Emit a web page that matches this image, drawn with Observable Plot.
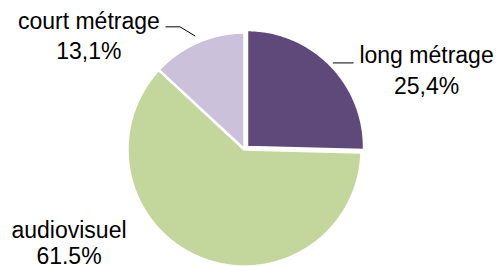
<!DOCTYPE html>
<html><head><meta charset="utf-8">
<script src="https://cdn.jsdelivr.net/npm/d3@7"></script>
<script src="https://cdn.jsdelivr.net/npm/@observablehq/plot@0.6"></script>
<style>html,body{margin:0;padding:0;background:#fff} svg{display:block}</style>
</head><body><div id="chart"></div>
<script>
// ---- data ----
const categories = ["long métrage", "audiovisuel", "court métrage"];
const values = [25.4, 61.5, 13.1];
const valueLabels = ["25,4%", "61.5%", "13,1%"];
const colors = ["#5F497A", "#C3D69B", "#CCC1DA"];
const explode = [0.03, 0, 0];
// ---- label layout (pie-radius units) ----
const labelX = [1.556, -1.50, -1.33];
const labelY = [0.800, -0.695, 1.090];
const lineGap = [0.265, 0.223, 0.256];

const W = 499, H = 266, CX = 244, CY = 149, R = 117;

const arcs = d3.pie().sort(null).value(d => d)(values);
const slices = [];
arcs.forEach((a, i) => {
  const mid = (a.startAngle + a.endAngle) / 2;
  const ox = explode[i] * Math.sin(mid), oy = explode[i] * Math.cos(mid);
  slices.push({k: i, x: ox, y: oy, color: colors[i]});
  const n = Math.max(2, Math.ceil((a.endAngle - a.startAngle) / 0.01));
  for (let j = 0; j <= n; j++) {
    const t = a.startAngle + (a.endAngle - a.startAngle) * j / n;
    slices.push({k: i, x: ox + Math.sin(t), y: oy + Math.cos(t), color: colors[i]});
  }
});

// leaders
const leaders = [];
{
  const a = arcs[0], mid = (a.startAngle + a.endAngle) / 2, r = 1.03 + explode[0];
  const p = [r * Math.sin(mid), r * Math.cos(mid)];
  leaders.push({k: 0, x: p[0], y: p[1]}, {k: 0, x: p[0] + 0.17, y: p[1]});
}
{
  const a = arcs[2], mid = (a.startAngle + a.endAngle) / 2, r = 1.06 + explode[2];
  const p = [r * Math.sin(mid), r * Math.cos(mid)];
  leaders.push({k: 2, x: p[0], y: p[1]}, {k: 2, x: p[0] - 0.128, y: p[1] + 0.077}, {k: 2, x: p[0] - 0.248, y: p[1] + 0.077});
}

const labels = [];
categories.forEach((c, i) => {
  labels.push({x: labelX[i], y: labelY[i], text: c});
  labels.push({x: labelX[i], y: labelY[i] - lineGap[i], text: valueLabels[i]});
});

const chart = Plot.plot({
  width: W, height: H,
  margin: 0,
  x: {domain: [-CX / R, (W - CX) / R], range: [0, W], axis: null},
  y: {domain: [-(H - CY) / R, CY / R], range: [H, 0], axis: null},
  color: {type: "identity"},
  style: {fontFamily: "'Liberation Sans', Arial, sans-serif", background: "#fff"},
  marks: [
    Plot.line(slices, {x: "x", y: "y", z: "k", fill: "color", stroke: "#fff", strokeWidth: 2.5, curve: "linear-closed"}),
    Plot.line(leaders, {x: "x", y: "y", z: "k", stroke: "#000", strokeWidth: 1}),
    Plot.text(labels, {x: "x", y: "y", text: "text", textAnchor: "middle", lineAnchor: "middle", fontSize: 23, fill: "#000", fontFamily: "'Liberation Sans', Arial, sans-serif"})
  ]
});
document.getElementById("chart").appendChild(chart);
</script>
</body></html>
